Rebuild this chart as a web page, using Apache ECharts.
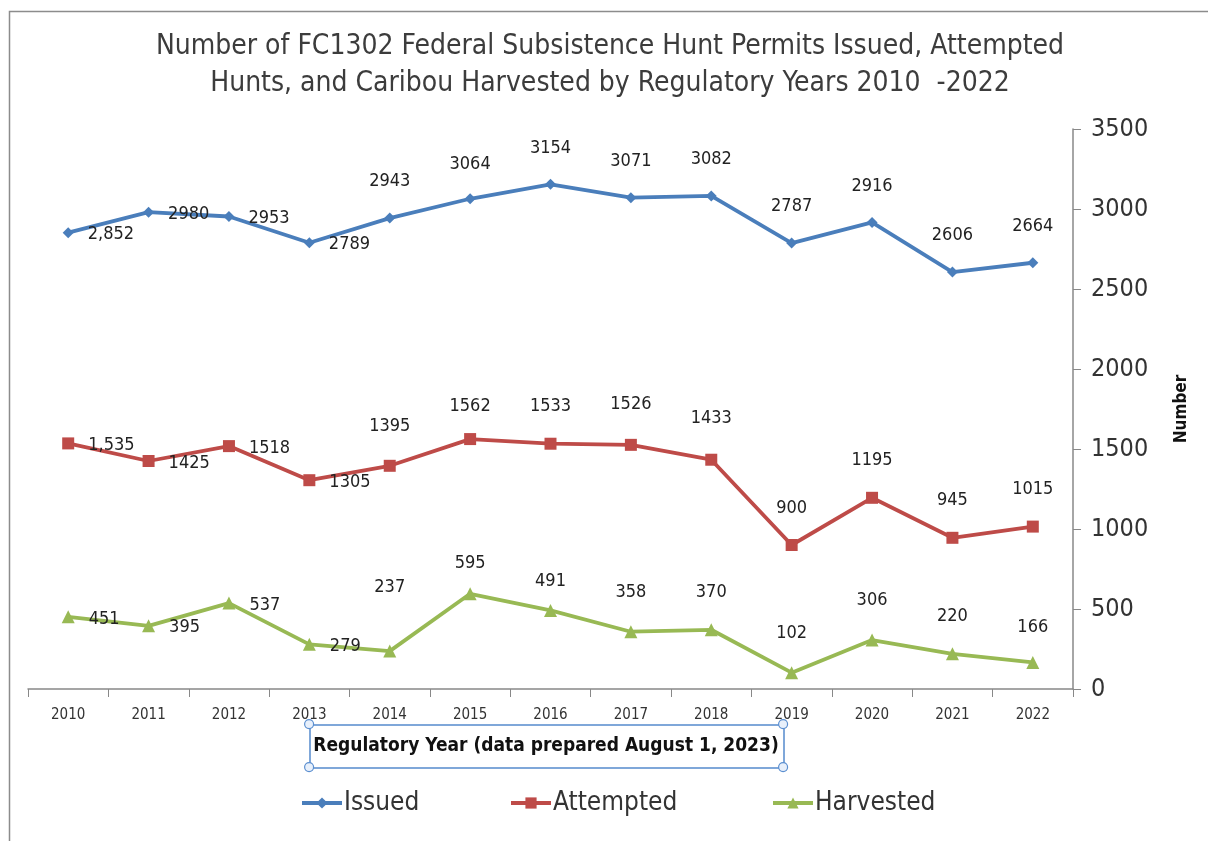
<!DOCTYPE html>
<html>
<head>
<meta charset="utf-8">
<script src="https://cdn.jsdelivr.net/npm/echarts@6/dist/echarts.min.js"></script>
<style>
html,body{margin:0;padding:0;background:#fff;}
#chart{width:1208px;height:841px;}
</style>
</head>
<body>
<div id="chart"></div>
<script>
const years = ['2010','2011','2012','2013','2014','2015','2016','2017','2018','2019','2020','2021','2022'];
const seriesNames = ['Issued', 'Attempted', 'Harvested'];
const issued    = [2852, 2980, 2953, 2789, 2943, 3064, 3154, 3071, 3082, 2787, 2916, 2606, 2664];
const attempted = [1535, 1425, 1518, 1305, 1395, 1562, 1533, 1526, 1433, 900, 1195, 945, 1015];
const harvested = [451, 395, 537, 279, 237, 595, 491, 358, 370, 102, 306, 220, 166];
const yTicks = [0, 500, 1000, 1500, 2000, 2500, 3000, 3500];
// label placement per point: 'r' = right of point, 't' = above
const issuedPos    = ['r','r','r','r','t','t','t','t','t','t','t','t','t'];
const attemptedPos = ['r','r','r','r','t','t','t','t','t','t','t','t','t'];
const harvestedPos = ['r','r','r','r','t','t','t','t','t','t','t','t','t'];

const FONT = "'Liberation Sans Narrow','DejaVu Sans Condensed','Open Sans',sans-serif";

function fmt(v, i) {
  return i === 0 ? v.toLocaleString('en-US') : String(v);
}
function buildData(vals, pos, topDist) {
  return vals.map((v, i) => ({
    value: v,
    label: pos[i] === 'r'
      ? { position: 'right', distance: 14, offset: [0, 2], formatter: fmt(v, i) }
      : { position: 'top', distance: (topDist[i] || 22), formatter: fmt(v, i) }
  }));
}
const issuedTop = [], attemptedTop = [], harvestedTop = [];
issuedTop[4]=22; issuedTop[5]=20; issuedTop[6]=22;
attemptedTop[4]=24; attemptedTop[5]=18; attemptedTop[7]=26; attemptedTop[8]=26; attemptedTop[9]=22;
harvestedTop[4]=48; harvestedTop[5]=15; harvestedTop[6]=14; harvestedTop[7]=24; harvestedTop[8]=22; harvestedTop[9]=24; harvestedTop[10]=24; harvestedTop[11]=22; harvestedTop[12]=20;

const chart = echarts.init(document.getElementById('chart'));
const labelStyle = { show: true, color: '#222', fontSize: 18, fontFamily: FONT };
const legendLefts = [295, 504, 766];

chart.setOption({
  animation: false,
  backgroundColor: '#fff',
  textStyle: { fontFamily: FONT },
  title: {
    text: 'Number of FC1302 Federal Subsistence Hunt Permits Issued, Attempted\nHunts, and Caribou Harvested by Regulatory Years 2010  -2022',
    left: 605, top: 23, textAlign: 'center',
    textStyle: { fontSize: 28, fontWeight: 'normal', color: '#3c3c3c', lineHeight: 37, fontFamily: FONT }
  },
  grid: { left: 28, right: 135, top: 129, bottom: 152 },
  legend: seriesNames.map((n, i) => ({
    left: legendLefts[i], top: 785, itemWidth: 40, itemHeight: 14, itemGap: 0,
    lineStyle: { width: 4 },
    textStyle: { fontSize: 26, color: '#333', fontFamily: FONT, padding: [0, 0, 0, -3] },
    data: [n]
  })),
  xAxis: {
    type: 'category', data: years, boundaryGap: true,
    axisLine: { lineStyle: { color: '#888', width: 1.5 } },
    axisTick: { show: true, length: 8, lineStyle: { color: '#888' } },
    axisLabel: { color: '#333', fontSize: 15, margin: 19, fontFamily: FONT }
  },
  yAxis: {
    type: 'value', position: 'right', min: 0, max: 3500, interval: 500,
    name: 'Number', nameLocation: 'middle', nameGap: 100, nameRotate: 90,
    nameTextStyle: { fontSize: 17, fontWeight: 'bold', color: '#111', fontFamily: FONT },
    axisLine: { show: true, lineStyle: { color: '#888', width: 1.5 } },
    axisTick: { show: true, length: 8, lineStyle: { color: '#888' } },
    splitLine: { show: false },
    axisLabel: {
      color: '#333', fontSize: 25, margin: 18, fontFamily: FONT,
      formatter: v => (yTicks.indexOf(v) >= 0 ? String(v) : '')
    }
  },
  series: [
    {
      name: seriesNames[0], type: 'line', data: buildData(issued, issuedPos, issuedTop),
      symbol: 'diamond', symbolSize: 11,
      lineStyle: { color: '#4a7ebb', width: 3.8 },
      itemStyle: { color: '#4a7ebb' },
      label: labelStyle
    },
    {
      name: seriesNames[1], type: 'line', data: buildData(attempted, attemptedPos, attemptedTop),
      symbol: 'rect', symbolSize: 12,
      lineStyle: { color: '#be4b48', width: 3.8 },
      itemStyle: { color: '#be4b48' },
      label: labelStyle
    },
    {
      name: seriesNames[2], type: 'line', data: buildData(harvested, harvestedPos, harvestedTop),
      symbol: 'triangle', symbolSize: 13,
      lineStyle: { color: '#98b954', width: 3.8 },
      itemStyle: { color: '#98b954' },
      label: labelStyle
    }
  ],
  graphic: [
    { type: 'rect', left: 7, top: 9, shape: { width: 1230, height: 900 },
      style: { fill: 'none', stroke: '#8c8c8c', lineWidth: 1.5 }, silent: true, z: -1 },
    { type: 'rect', left: 309, top: 724, shape: { width: 474, height: 43 },
      style: { fill: '#fff', stroke: '#7fa7d9', lineWidth: 2 }, z: 10 },
    { type: 'text', x: 546, y: 746, z: 11,
      style: { text: 'Regulatory Year (data prepared August 1, 2023)', textAlign: 'center', textVerticalAlign: 'middle',
        font: "bold 19px 'Liberation Sans Narrow','DejaVu Sans Condensed',sans-serif", fill: '#111' } },
    { type: 'circle', left: 304, top: 719, shape: { r: 4.5 }, style: { fill: '#e8f0fb', stroke: '#5b8fd0', lineWidth: 1.2 }, z: 12 },
    { type: 'circle', left: 778, top: 719, shape: { r: 4.5 }, style: { fill: '#e8f0fb', stroke: '#5b8fd0', lineWidth: 1.2 }, z: 12 },
    { type: 'circle', left: 304, top: 762, shape: { r: 4.5 }, style: { fill: '#e8f0fb', stroke: '#5b8fd0', lineWidth: 1.2 }, z: 12 },
    { type: 'circle', left: 778, top: 762, shape: { r: 4.5 }, style: { fill: '#e8f0fb', stroke: '#5b8fd0', lineWidth: 1.2 }, z: 12 }
  ]
});
</script>
</body>
</html>
